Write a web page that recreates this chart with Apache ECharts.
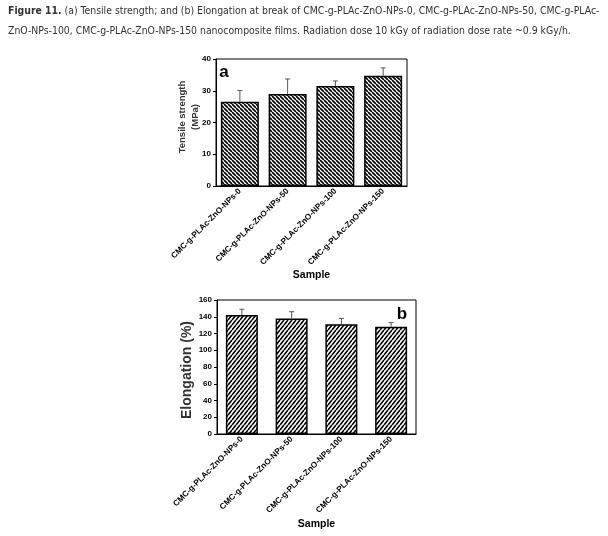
<!DOCTYPE html>
<html><head><meta charset="utf-8">
<script src="https://cdn.jsdelivr.net/npm/echarts@6/dist/echarts.min.js"></script>
<style>html,body{margin:0;padding:0;background:#fff}#c{width:608px;height:536px}</style>
</head><body><div id="c"></div>
<script>
const categories = ['CMC-g-PLAc-ZnO-NPs-0','CMC-g-PLAc-ZnO-NPs-50','CMC-g-PLAc-ZnO-NPs-100','CMC-g-PLAc-ZnO-NPs-150'];
const tensile = [26.5, 29.0, 31.5, 34.7];
const tensileErr = [3.6, 4.7, 1.6, 2.5];
const elongation = [142, 138, 131, 128];
const elongationErr = [7, 8, 7, 5];
const ticksA = [0, 10, 20, 30, 40];
const ticksB = [0, 20, 40, 60, 80, 100, 120, 140, 160];
const titleBold = 'Figure 11.';
const titleLine1 = ' (a) Tensile strength; and (b) Elongation at break of CMC-g-PLAc-ZnO-NPs-0, CMC-g-PLAc-ZnO-NPs-50, CMC-g-PLAc-';
const titleLine2 = 'ZnO-NPs-100, CMC-g-PLAc-ZnO-NPs-150 nanocomposite films. Radiation dose 10 kGy of radiation dose rate ~0.9 kGy/h.';

// pick a condensed font if present, and fit title line 1 to the reference width
const mc = document.createElement('canvas').getContext('2d');
function w(font, t){ mc.font = font; return mc.measureText(t).width; }
let fam = 'Liberation Sans';
const probe = 'abcdefghijklmnop ABCDEFG 0123';
if (w('12px "DejaVu Sans Condensed", monospace', probe) !== w('12px monospace', probe)) fam = 'DejaVu Sans Condensed';
const wl = w('bold 12px "' + fam + '"', titleBold) + w('12px "' + fam + '"', titleLine1);
const titleSize = Math.min(13, 12 * 592 / wl);

function hatch(dir, tw, th, lw){
  const c = document.createElement('canvas');
  c.width = tw; c.height = th;
  const g = c.getContext('2d');
  g.fillStyle = '#fff'; g.fillRect(0,0,tw,th);
  g.strokeStyle = '#000'; g.lineWidth = lw;
  g.beginPath();
  for (let k=-1;k<=1;k++){
    if (dir === 'back') { g.moveTo(k*tw, 0); g.lineTo(k*tw+tw, th); }
    else { g.moveTo(k*tw, th); g.lineTo(k*tw+tw, 0); }
  }
  g.stroke();
  return c;
}

function errSeries(xi, yi, vals, errs){
  return {
    type:'custom', xAxisIndex:xi, yAxisIndex:yi, z:5,
    data: vals.map((v,i)=>[i, v, v+errs[i]]),
    renderItem: function(params, api){
      const p0 = api.coord([api.value(0), api.value(1)]);
      const p1 = api.coord([api.value(0), api.value(2)]);
      const st = {stroke:'#555', lineWidth:1};
      return {type:'group', children:[
        {type:'line', shape:{x1:p0[0],y1:p0[1],x2:p1[0],y2:p1[1]}, style:st},
        {type:'line', shape:{x1:p1[0]-2.5,y1:p1[1],x2:p1[0]+2.5,y2:p1[1]}, style:st}
      ]};
    }
  };
}

const axisLabelY = {fontSize:8, fontWeight:'bold', color:'#000', fontFamily:'Arial, Liberation Sans', margin:5};
const xLabel = {rotate:45, fontSize:8.2, fontWeight:'bold', color:'#000', fontFamily:'Arial, Liberation Sans', interval:0, margin:4};

const chart = echarts.init(document.getElementById('c'));
chart.setOption({
  animation:false,
  title:{
    left:8, top:1, padding:0,
    text:'{b|' + titleBold + '}' + titleLine1 + '\n' + titleLine2,
    textStyle:{
      fontFamily:fam, fontSize:titleSize, color:'#333', fontWeight:'normal', lineHeight:20,
      rich:{b:{fontWeight:'bold', fontFamily:fam, fontSize:titleSize, color:'#333', lineHeight:20}}
    }
  },
  grid:[
    {left:216, top:59, width:191, height:127, show:true, borderColor:'#000', borderWidth:1, backgroundColor:'transparent'},
    {left:217, top:300, width:199, height:134, show:true, borderColor:'#000', borderWidth:1, backgroundColor:'transparent'}
  ],
  xAxis:[
    {type:'category', gridIndex:0, data:categories, axisLine:{lineStyle:{color:'#000'}}, axisTick:{inside:true, length:3, lineStyle:{color:'#000'}, alignWithLabel:true}, axisLabel:xLabel,
     name:'Sample', nameLocation:'middle', nameGap:72, nameTextStyle:{fontSize:10.5, fontWeight:'bold', color:'#000', fontFamily:'Arial, Liberation Sans'}},
    {type:'category', gridIndex:1, data:categories, axisLine:{lineStyle:{color:'#000'}}, axisTick:{inside:true, length:3, lineStyle:{color:'#000'}, alignWithLabel:true}, axisLabel:xLabel,
     name:'Sample', nameLocation:'middle', nameGap:85, nameTextStyle:{fontSize:10.5, fontWeight:'bold', color:'#000', fontFamily:'Arial, Liberation Sans'}}
  ],
  yAxis:[
    {type:'value', gridIndex:0, min:ticksA[0], max:ticksA[ticksA.length-1], interval:10, splitLine:{show:false},
     axisLine:{show:true, lineStyle:{color:'#000'}}, axisTick:{show:true, length:3, lineStyle:{color:'#000'}}, axisLabel:axisLabelY},
    {type:'value', gridIndex:1, min:ticksB[0], max:ticksB[ticksB.length-1], interval:20, splitLine:{show:false},
     axisLine:{show:true, lineStyle:{color:'#000'}}, axisTick:{show:true, length:3, lineStyle:{color:'#000'}}, axisLabel:axisLabelY}
  ],
  graphic:[
    {type:'text', x:189, y:117, rotation:Math.PI/2, style:{text:'Tensile strength\n(MPa)', fontSize:9.5, fontWeight:'bold', fill:'#333', fontFamily:'Arial, Liberation Sans', align:'center', verticalAlign:'middle', lineHeight:13}},
    {type:'text', x:187, y:370, rotation:Math.PI/2, style:{text:'Elongation (%)', fontSize:14, fontWeight:'bold', fill:'#333', fontFamily:'Arial, Liberation Sans', align:'center', verticalAlign:'middle'}},
    {type:'text', x:224, y:72, style:{text:'a', fontSize:17, fontWeight:'bold', fill:'#000', fontFamily:'Arial, Liberation Sans', align:'center', verticalAlign:'middle'}},
    {type:'text', x:402, y:314, style:{text:'b', fontSize:17, fontWeight:'bold', fill:'#000', fontFamily:'Arial, Liberation Sans', align:'center', verticalAlign:'middle'}}
  ],
  series:[
    {type:'bar', xAxisIndex:0, yAxisIndex:0, data:tensile, barWidth:38,
     itemStyle:{color:{image:hatch('back',4,4,1.6), repeat:'repeat'}, borderColor:'#000', borderWidth:1.5}},
    errSeries(0,0,tensile,tensileErr),
    {type:'bar', xAxisIndex:1, yAxisIndex:1, data:elongation, barWidth:32,
     itemStyle:{color:{image:hatch('fwd',4,5,1.6), repeat:'repeat'}, borderColor:'#000', borderWidth:1.5}},
    errSeries(1,1,elongation,elongationErr)
  ]
});
</script></body></html>
